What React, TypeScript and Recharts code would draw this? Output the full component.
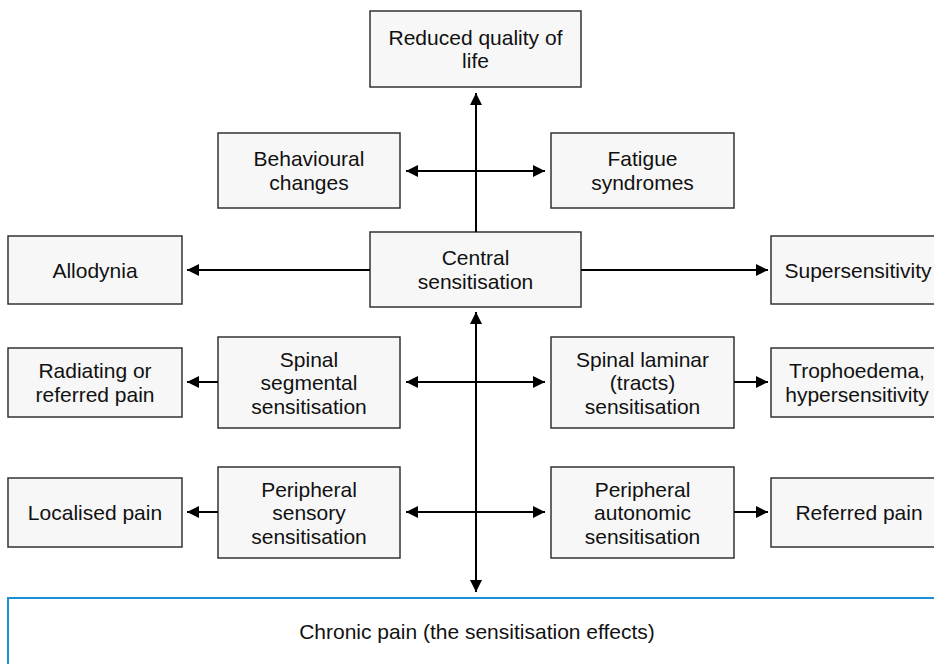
import { ScatterChart, Scatter, XAxis, YAxis, ReferenceArea, ReferenceLine } from "recharts";

// diagram boxes, in pixel units of the 934x664 picture (y grows downwards)
const nodes = [
  { id: "quality", x1: 370, x2: 581, y1: 11, y2: 87, lines: ["Reduced quality of", "life"] },
  { id: "behaviour", x1: 218, x2: 400, y1: 133, y2: 208, lines: ["Behavioural", "changes"] },
  { id: "fatigue", x1: 551, x2: 734, y1: 133, y2: 208, lines: ["Fatigue", "syndromes"] },
  { id: "allodynia", x1: 8, x2: 182, y1: 236, y2: 304, lines: ["Allodynia"] },
  { id: "central", x1: 370, x2: 581, y1: 232, y2: 307, lines: ["Central", "sensitisation"] },
  { id: "super", x1: 771, x2: 940, y1: 236, y2: 304, lines: ["Supersensitivity"], tx: 858 },
  { id: "radiating", x1: 8, x2: 182, y1: 348, y2: 417, lines: ["Radiating or", "referred pain"] },
  { id: "segmental", x1: 218, x2: 400, y1: 337, y2: 428, lines: ["Spinal", "segmental", "sensitisation"] },
  { id: "laminar", x1: 551, x2: 734, y1: 337, y2: 428, lines: ["Spinal laminar", "(tracts)", "sensitisation"] },
  { id: "tropho", x1: 771, x2: 940, y1: 348, y2: 417, lines: ["Trophoedema,", "hypersensitivity"], tx: 857 },
  { id: "localised", x1: 8, x2: 182, y1: 478, y2: 547, lines: ["Localised pain"] },
  { id: "sensory", x1: 218, x2: 400, y1: 467, y2: 558, lines: ["Peripheral", "sensory", "sensitisation"] },
  { id: "autonomic", x1: 551, x2: 734, y1: 467, y2: 558, lines: ["Peripheral", "autonomic", "sensitisation"] },
  { id: "referred", x1: 771, x2: 940, y1: 478, y2: 547, lines: ["Referred pain"], tx: 859 },
];

const chronicBox = { x1: 8, x2: 950, y1: 598, y2: 672 };
const chronicLabel = { tx: 477, ty: 631, lines: ["Chronic pain (the sensitisation effects)"] };

// connectors: start point, end point, and whether the start also has a head
const arrows = [
  { x1: 476, y1: 232, x2: 476, y2: 93, both: false },
  { x1: 406, y1: 171, x2: 545, y2: 171, both: true },
  { x1: 370, y1: 270, x2: 187, y2: 270, both: false },
  { x1: 581, y1: 270, x2: 768, y2: 270, both: false },
  { x1: 476, y1: 312, x2: 476, y2: 592, both: true },
  { x1: 406, y1: 382, x2: 545, y2: 382, both: true },
  { x1: 406, y1: 512, x2: 545, y2: 512, both: true },
  { x1: 218, y1: 382, x2: 187, y2: 382, both: false },
  { x1: 734, y1: 382, x2: 768, y2: 382, both: false },
  { x1: 218, y1: 512, x2: 187, y2: 512, both: false },
  { x1: 734, y1: 512, x2: 768, y2: 512, both: false },
];

const FONT = "'Liberation Sans', Arial, sans-serif";
const FONT_SIZE = 21;
const LINE_H = 23.5;
const HEAD = 12;

const labelPoints = [
  ...nodes.map((n) => ({ tx: n.tx ?? (n.x1 + n.x2) / 2, ty: (n.y1 + n.y2) / 2, lines: n.lines })),
  chronicLabel,
];

function head(x: number, y: number, dx: number, dy: number) {
  const len = Math.hypot(dx, dy) || 1;
  const ux = dx / len;
  const uy = dy / len;
  const bx = x - ux * HEAD;
  const by = y - uy * HEAD;
  const px = -uy * (HEAD / 2);
  const py = ux * (HEAD / 2);
  return `${x},${y} ${bx + px},${by + py} ${bx - px},${by - py}`;
}

function arrowShape(both: boolean) {
  return (p: any) => {
    const { x1, y1, x2, y2 } = p;
    const dx = x2 - x1;
    const dy = y2 - y1;
    return (
      <g>
        <line x1={x1} y1={y1} x2={x2} y2={y2} stroke="#000" strokeWidth={2} />
        <polygon points={head(x2, y2, dx, dy)} fill="#000" />
        {both && <polygon points={head(x1, y1, -dx, -dy)} fill="#000" />}
      </g>
    );
  };
}

function NodeLabel(props: any) {
  const { cx, cy, payload } = props;
  const lines: string[] = payload.lines;
  const n = lines.length;
  return (
    <text fontFamily={FONT} fontSize={FONT_SIZE} fill="#111" textAnchor="middle">
      {lines.map((l, i) => (
        <tspan key={i} x={cx} y={cy + (i - (n - 1) / 2) * LINE_H + FONT_SIZE * 0.36}>
          {l}
        </tspan>
      ))}
    </text>
  );
}

export default function App() {
  return (
    <div style={{ position: "absolute", left: 0, top: 0, width: 934, height: 664, background: "#fff" }}>
      <ScatterChart width={934} height={664} margin={{ top: 0, right: 0, bottom: 0, left: 0 }}>
        <XAxis type="number" dataKey="tx" domain={[0, 934]} allowDataOverflow hide />
        <YAxis type="number" dataKey="ty" domain={[0, 664]} reversed allowDataOverflow hide />
        <ReferenceArea
          x1={chronicBox.x1}
          x2={chronicBox.x2}
          y1={chronicBox.y1}
          y2={chronicBox.y2}
          ifOverflow="visible"
          fill="#fff"
          fillOpacity={1}
          stroke="#1a8fd6"
          strokeWidth={2}
        />
        {nodes.map((n) => (
          <ReferenceArea
            key={n.id}
            x1={n.x1}
            x2={n.x2}
            y1={n.y1}
            y2={n.y2}
            ifOverflow="visible"
            fill="#f7f7f7"
            fillOpacity={1}
            stroke="#333"
            strokeWidth={1.5}
          />
        ))}
        {arrows.map((a, i) => (
          <ReferenceLine
            key={i}
            segment={[
              { x: a.x1, y: a.y1 },
              { x: a.x2, y: a.y2 },
            ]}
            ifOverflow="visible"
            shape={arrowShape(a.both)}
          />
        ))}
        <Scatter data={labelPoints} isAnimationActive={false} shape={<NodeLabel />} />
      </ScatterChart>
    </div>
  );
}
